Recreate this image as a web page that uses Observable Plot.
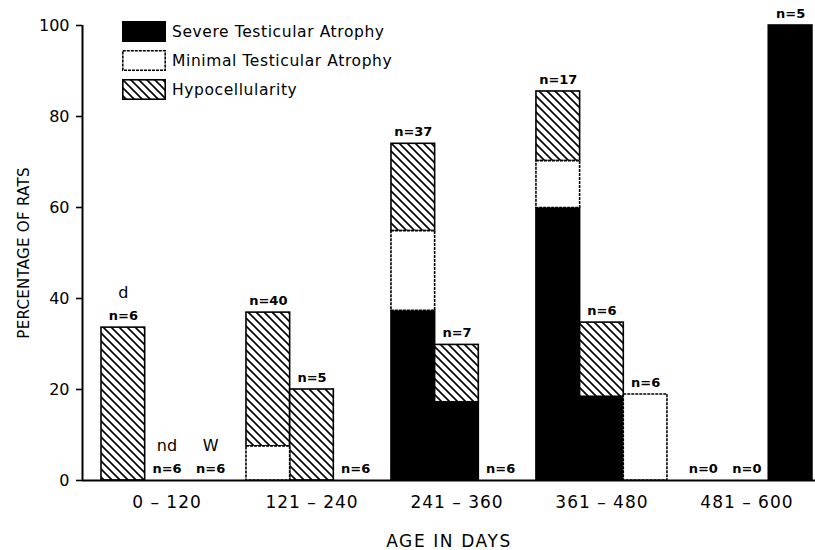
<!DOCTYPE html>
<html><head><meta charset="utf-8">
<script src="https://cdn.jsdelivr.net/npm/d3@7"></script>
<script src="https://cdn.jsdelivr.net/npm/@observablehq/plot@0.6"></script>
<style>
body{margin:0;background:#fff;}
#wrap{position:relative;width:815px;height:550px;font-family:"DejaVu Sans",sans-serif;}
#legend{position:absolute;left:122px;top:21px;}
.row{display:flex;align-items:center;height:21px;margin-bottom:8px;}
.row svg{margin-right:6px;display:block;}
.row span{font-size:15.5px;letter-spacing:0.6px;color:#000;}
</style></head><body>
<svg width="0" height="0" style="position:absolute"><defs>
<pattern id="hatch" patternUnits="userSpaceOnUse" width="8" height="8">
<rect width="8" height="8" fill="white"/>
<path d="M0,0L8,8M-4,4L4,12M4,-4L12,4" stroke="black" stroke-width="1.6"/>
</pattern></defs></svg>
<div id="wrap"><div id="legend"></div></div>
<script>
// ---- data ----
const ages = ["0 – 120", "121 – 240", "241 – 360", "361 – 480", "481 – 600"];
const groups = ["d", "nd", "W"];
const seriesNames = ["Severe Testicular Atrophy", "Minimal Testicular Atrophy", "Hypocellularity"];
// values per age group, per group [d, nd, W]
const severe  = [[0, 0, 0], [0, 0, 0], [37.3, 17.2, 0], [59.9, 18.4, 0], [0, 0, 100]];
const minimal = [[0, 0, 0], [7.5, 0, 0], [17.5, 0, 0], [10.3, 0, 18.9], [0, 0, 0]];
const hypo    = [[33.6, 0, 0], [29.4, 20, 0], [19.2, 12.6, 0], [15.3, 16.3, 0], [0, 0, 0]];
const nCounts = [[6, 6, 6], [40, 5, 6], [37, 7, 6], [17, 6, 6], [0, 0, 5]];
const yTicks = [0, 20, 40, 60, 80, 100];

// ---- layout constants ----
const GAP = 0.32;             // gap between age groups, in bar widths
const xDomain = [-0.435, 16.35];
const fills = {severe: "black", minimal: "white", hypo: "url(#hatch)"};
const keys = ["severe", "minimal", "hypo"];
const seriesArr = [severe, minimal, hypo];

const rects = [], labels = [];
ages.forEach((a, i) => groups.forEach((g, j) => {
  const x1 = i * (3 + GAP) + j;
  let base = 0;
  seriesArr.forEach((arr, k) => {
    const v = arr[i][j];
    if (v > 0) rects.push({x1, x2: x1 + 1, y1: base, y2: base + v, key: keys[k]});
    base += v;
  });
  labels.push({x: x1 + 0.5, y: base, n: nCounts[i][j], g, i});
}));
const centers = ages.map((a, i) => i * (3 + GAP) + 1.5);

const chart = Plot.plot({
  width: 815, height: 550,
  marginLeft: 82, marginRight: 0, marginTop: 25, marginBottom: 70,
  x: {domain: xDomain},
  y: {domain: [0, 100]},
  style: {fontFamily: "DejaVu Sans, sans-serif", color: "black", background: "transparent", overflow: "visible"},
  marks: [
    Plot.rectY(rects.filter(d => d.key !== "minimal"), {x1: "x1", x2: "x2", y1: "y1", y2: "y2", fill: d => fills[d.key], stroke: "black", strokeWidth: 1.6}),
    Plot.rectY(rects.filter(d => d.key === "minimal"), {x1: "x1", x2: "x2", y1: "y1", y2: "y2", fill: "white", stroke: "black", strokeWidth: 1.6, strokeDasharray: "3,1"}),
    Plot.ruleY([0], {x1: xDomain[0], x2: xDomain[1], strokeWidth: 2}),
    Plot.ruleX([xDomain[0]], {y1: 0, y2: 100, strokeWidth: 2}),
    Plot.axisY({ticks: yTicks, tickSize: 6, tickPadding: 7, fontSize: 16, strokeWidth: 1.6,
      label: "PERCENTAGE OF RATS", labelAnchor: "center", labelArrow: "none", labelOffset: 64}),
    Plot.axisX({ticks: centers, tickFormat: (d, i) => ages[i], tickSize: 0, tickPadding: 15, fontSize: 17,
      label: "AGE IN DAYS", labelAnchor: "center", labelArrow: "none", labelOffset: 66}),
    Plot.text(labels, {x: "x", y: "y", text: d => "n=" + d.n, dy: -12, fontSize: 13, fontWeight: "bold"}),
    Plot.text(labels.filter(d => d.i === 0), {x: "x", y: "y", text: "g", dy: -35, fontSize: 16})
  ]
});
document.getElementById("wrap").prepend(chart);
d3.select(chart).selectAll('[aria-label="x-axis tick label"] text').style("letter-spacing", "1px");
d3.select(chart).selectAll('[aria-label="x-axis label"] text').style("letter-spacing", "1.6px");
d3.select(chart).selectAll('[aria-label="y-axis label"] text').style("font-size", "15px").style("letter-spacing", "0.3px");

// legend
const leg = document.getElementById("legend");
keys.forEach((k, idx) => {
  const row = document.createElement("div");
  row.className = "row";
  row.innerHTML = `<svg width="44" height="21"><rect x="0.8" y="0.8" width="42.4" height="19.4" fill="${fills[k]}" stroke="black" stroke-width="1.6" ${k === "minimal" ? 'stroke-dasharray="3,1"' : ""}/></svg><span>${seriesNames[idx]}</span>`;
  leg.appendChild(row);
});
</script>
</body></html>
